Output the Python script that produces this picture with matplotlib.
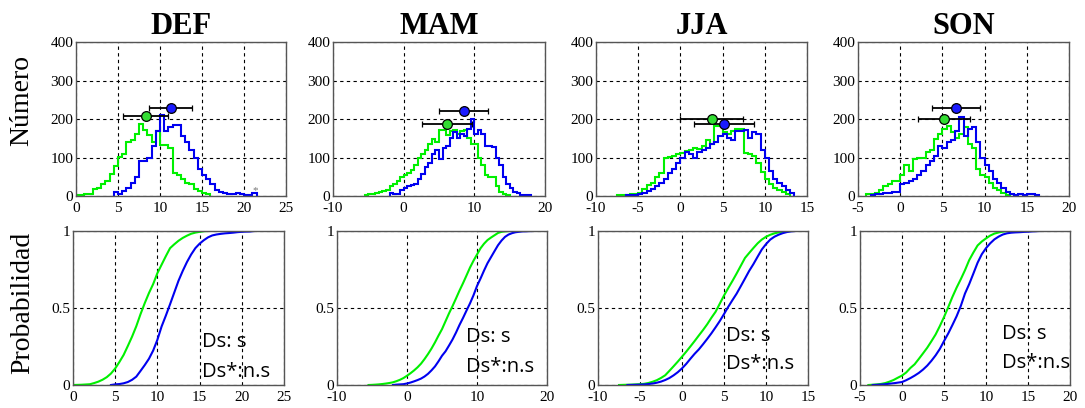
import numpy as np
import matplotlib.pyplot as plt

plt.rcParams['font.family'] = ['Liberation Serif', 'DejaVu Serif']
plt.rcParams['axes.unicode_minus'] = False

seasons = ['DEF', 'MAM', 'JJA', 'SON']
bin_width = 0.5

# histogram counts, 0.5-wide bins, first bin left edge in *_start
def_green_start = 0.0
def_green = [2, 2, 4, 4, 18, 22, 30, 40, 57, 79, 101, 110, 140, 145, 162, 188,
             171, 158, 140, 170, 132, 132, 125, 60, 55, 44, 35, 30, 18, 12, 9, 4]
def_blue_start = 4.5
def_blue = [10, 5, 12, 20, 35, 50, 90, 92, 100, 130, 170, 210, 170, 180, 185, 185,
            155, 140, 120, 100, 70, 55, 45, 30, 15, 10, 8, 5, 6, 8, 5, 3, 2, 8]

mam_green_start = -5.5
mam_green = [3, 5, 6, 8, 10, 12, 15, 25, 30, 38, 50, 55, 60, 68, 80, 100, 110, 120,
             135, 148, 140, 172, 172, 158, 168, 172, 160, 170, 172, 150, 135, 135,
             100, 80, 55, 50, 50, 25, 10, 5, 3]
mam_blue_start = -2.0
mam_blue = [8, 5, 5, 15, 20, 25, 28, 32, 45, 58, 75, 85, 110, 120, 95, 125, 130, 150,
            165, 150, 160, 155, 175, 200, 160, 172, 160, 130, 130, 128, 100, 80, 50,
            30, 20, 10, 8, 3, 3, 3]

jja_green_start = -7.5
jja_green = [3, 3, 3, 5, 5, 8, 18, 28, 35, 50, 60, 100, 102, 105, 110, 112, 118, 120,
             125, 122, 130, 146, 135, 182, 182, 165, 160, 168, 175, 175, 112, 110,
             105, 85, 62, 45, 32, 22, 15, 10, 6]
jja_blue_start = -6.5
jja_blue = [2, 3, 3, 5, 8, 12, 18, 25, 35, 45, 60, 70, 85, 100, 115, 110, 98, 115,
            120, 125, 135, 140, 155, 160, 150, 145, 168, 170, 172, 150, 165, 162,
            120, 100, 65, 45, 35, 25, 15, 8]

son_green_start = -4.0
son_green = [5, 6, 8, 15, 25, 30, 40, 38, 55, 80, 65, 95, 98, 100, 115, 120, 148, 160,
             175, 182, 165, 150, 160, 178, 135, 125, 70, 55, 50, 35, 20, 15, 8, 3]
son_blue_start = -3.5
son_blue = [3, 5, 5, 8, 8, 10, 10, 30, 35, 40, 45, 55, 65, 80, 90, 105, 130, 125, 140,
            145, 170, 205, 155, 175, 178, 140, 100, 80, 65, 45, 35, 20, 10, 5, 3, 5,
            3, 5, 4, 3]

# mean +- spread markers drawn over the histograms
green_mean = [8.3, 6.1, 3.7, 5.15]
green_spread = [2.65, 3.5, 3.75, 3.1]
green_level = [209, 187, 201, 200]
blue_mean = [11.25, 8.5, 5.2, 6.6]
blue_spread = [2.6, 3.45, 3.55, 2.85]
blue_level = [228, 220, 188, 228]

x_limits = [(0, 25), (-10, 20), (-10, 15), (-5, 20)]
x_ticks = [np.arange(0, 26, 5), np.arange(-10, 21, 10), np.arange(-10, 16, 5), np.arange(-5, 21, 5)]

test_lines = ['Ds: s', 'Ds*:n.s']
note_x = [15.3, 8.4, 5.2, 11.9]
note_y1 = [0.28, 0.31, 0.32, 0.33]
note_y2 = [0.085, 0.12, 0.135, 0.14]

greens = [(def_green_start, def_green), (mam_green_start, mam_green),
          (jja_green_start, jja_green), (son_green_start, son_green)]
blues = [(def_blue_start, def_blue), (mam_blue_start, mam_blue),
         (jja_blue_start, jja_blue), (son_blue_start, son_blue)]

GREEN = '#00f000'
BLUE = '#0000f0'
W, H = 1085, 408

# axes boxes in pixels: left, right
top_boxes = [(76, 286), (333, 545), (596, 807), (858, 1069)]
bot_boxes = [(73, 284), (337, 547), (598, 808), (860, 1070)]

fig = plt.figure(figsize=(W / 100, H / 100), dpi=100)


def make_ax(l, r, t, b):
    ax = fig.add_axes([l / W, 1 - b / H, (r - l) / W, (b - t) / H])
    ax.grid(True, color='black', linestyle=(0, (3, 3)), linewidth=0.8)
    ax.set_axisbelow(True)
    for s in ax.spines.values():
        s.set_color('#555555')
        s.set_linewidth(1.0)
    ax.tick_params(length=0, labelsize=11)
    ax.tick_params(axis='x', pad=4)
    ax.tick_params(axis='y', pad=2)
    return ax


def edges_of(start, counts):
    return start + bin_width * np.arange(len(counts) + 1)


for i, name in enumerate(seasons):
    l, r = top_boxes[i]
    ax = make_ax(l, r, 42, 196)
    for (start, counts), col in [(greens[i], GREEN), (blues[i], BLUE)]:
        ax.stairs(counts, edges_of(start, counts), color=col, linewidth=1.5, baseline=0)
    ax.errorbar(green_mean[i], green_level[i], xerr=green_spread[i], fmt='o', ms=7,
                mfc='#33dd33', mec='black', mew=0.9, ecolor='black', elinewidth=1.3,
                capsize=2.5, zorder=5)
    ax.errorbar(blue_mean[i], blue_level[i], xerr=blue_spread[i], fmt='o', ms=7,
                mfc='#1a1aff', mec='black', mew=0.9, ecolor='black', elinewidth=1.3,
                capsize=2.5, zorder=5)
    ax.set_xlim(*x_limits[i])
    ax.set_xticks(x_ticks[i])
    ax.set_ylim(0, 400)
    ax.set_yticks([0, 100, 200, 300, 400])
    ax.set_title(name, fontsize=22, fontweight='bold', pad=6)
    if i == 0:
        ax.text(21.3, 14, '*', color='#777777', fontsize=8, ha='center', va='center')

    l, r = bot_boxes[i]
    ax2 = make_ax(l, r, 231, 385)
    for (start, counts), col in [(greens[i], GREEN), (blues[i], BLUE)]:
        c = np.asarray(counts, dtype=float)
        cdf = np.concatenate([[0], np.cumsum(c) / c.sum()])
        ax2.plot(edges_of(start, counts), cdf, color=col, linewidth=1.5)
    ax2.set_xlim(*x_limits[i])
    ax2.set_xticks(x_ticks[i])
    ax2.set_ylim(0, 1)
    ax2.set_yticks([0, 0.5, 1])
    ax2.set_yticklabels(['0', '0.5', '1'])
    ax2.text(note_x[i], note_y1[i], test_lines[0], transform=ax2.get_xaxis_transform(),
             family='Open Sans', fontsize=14.5, va='center')
    ax2.text(note_x[i], note_y2[i], test_lines[1], transform=ax2.get_xaxis_transform(),
             family='Open Sans', fontsize=14.5, va='center')

fig.text(22 / W, 1 - 100 / H, 'Número', rotation=90, fontsize=20, ha='center', va='center')
fig.text(23 / W, 1 - 303 / H, 'Probabilidad', rotation=90, fontsize=20, ha='center', va='center')

fig.savefig('out.png', dpi=100)
